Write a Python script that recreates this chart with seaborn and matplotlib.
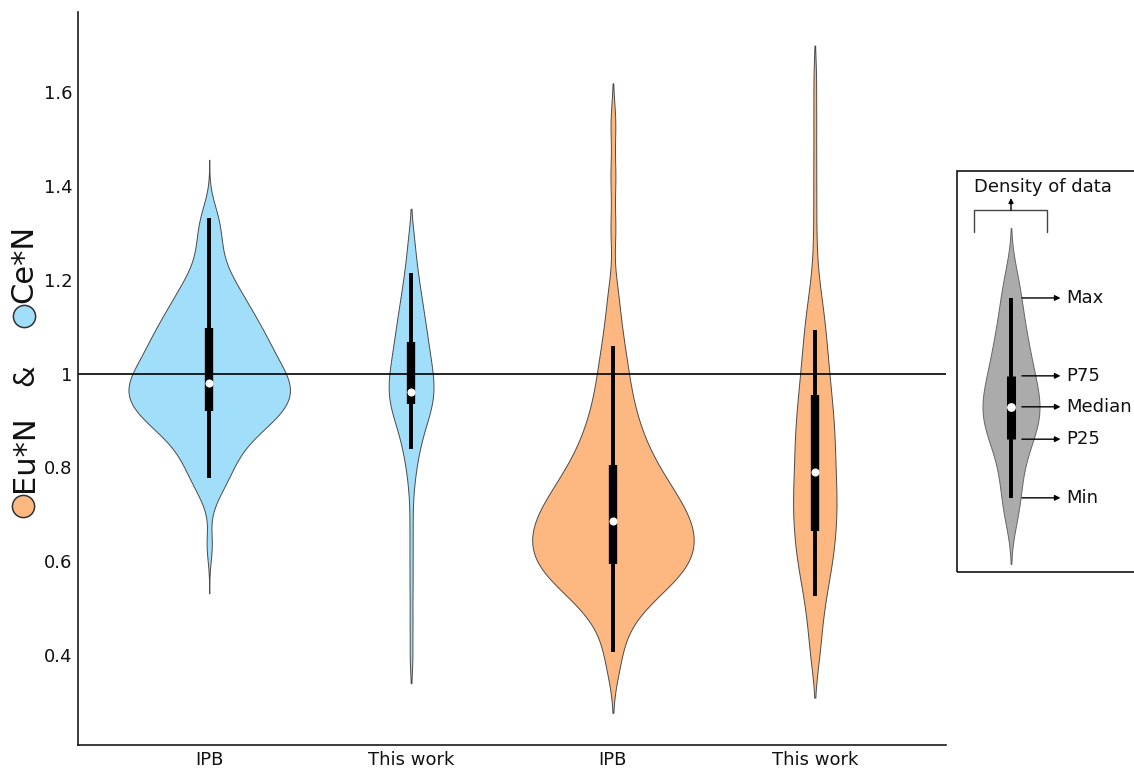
import numpy as np
import matplotlib
matplotlib.use("Agg")
import matplotlib.pyplot as plt
from matplotlib.lines import Line2D
from matplotlib.patches import Rectangle
import seaborn as sns

sns.set_style("white")
plt.rcParams["font.family"] = ["DejaVu Sans"]

# ---- data -----------------------------------------------------------------
categories = ["Ce IPB", "Ce This work", "Eu IPB", "Eu This work"]
tick_labels = ["IPB", "This work", "IPB", "This work"]

ce_ipb = [0.635, 0.731, 0.752, 0.766, 0.777, 0.787, 0.796, 0.805, 0.813, 0.821,
          0.829, 0.836, 0.843, 0.849, 0.855, 0.860, 0.865, 0.870, 0.875, 0.879, 0.883,
          0.887, 0.890, 0.894, 0.897, 0.900, 0.904, 0.907, 0.910, 0.913, 0.916, 0.919,
          0.921, 0.924, 0.927, 0.930, 0.932, 0.935, 0.938, 0.940, 0.943, 0.945, 0.948,
          0.950, 0.953, 0.956, 0.958, 0.961, 0.963, 0.966, 0.968, 0.971, 0.973, 0.976,
          0.978, 0.981, 0.984, 0.986, 0.989, 0.992, 0.994, 0.997, 1.000, 1.003, 1.005,
          1.008, 1.011, 1.014, 1.017, 1.020, 1.023, 1.026, 1.030, 1.033, 1.036, 1.039,
          1.043, 1.046, 1.049, 1.053, 1.056, 1.060, 1.063, 1.067, 1.070, 1.074, 1.078,
          1.082, 1.085, 1.089, 1.093, 1.097, 1.101, 1.106, 1.110, 1.114, 1.119, 1.124,
          1.128, 1.133, 1.139, 1.144, 1.149, 1.155, 1.161, 1.167, 1.174, 1.181, 1.188,
          1.196, 1.205, 1.215, 1.227, 1.241, 1.258, 1.275, 1.292, 1.310, 1.328, 1.352]

ce_this_work = [0.394, 0.470, 0.545, 0.612, 0.678, 0.743, 0.781, 0.803, 0.821, 0.835,
                0.847, 0.858, 0.868, 0.877, 0.885, 0.892, 0.899, 0.905, 0.911, 0.916,
                0.922, 0.927, 0.931, 0.936, 0.941, 0.945, 0.950, 0.954, 0.958, 0.963,
                0.967, 0.971, 0.976, 0.980, 0.985, 0.990, 0.994, 0.999, 1.004, 1.008,
                1.013, 1.018, 1.024, 1.029, 1.034, 1.040, 1.046, 1.051, 1.057, 1.063,
                1.069, 1.076, 1.082, 1.089, 1.095, 1.102, 1.110, 1.117, 1.125, 1.133,
                1.142, 1.151, 1.160, 1.171, 1.182, 1.194, 1.208, 1.224, 1.243, 1.267,
                1.297]

eu_ipb = [0.362, 0.392, 0.421, 0.445, 0.464, 0.478, 0.489, 0.498, 0.506, 0.513, 0.520,
          0.526, 0.531, 0.537, 0.542, 0.546, 0.550, 0.555, 0.559, 0.562, 0.566, 0.570,
          0.573, 0.576, 0.580, 0.583, 0.586, 0.589, 0.592, 0.595, 0.598, 0.601, 0.605,
          0.608, 0.611, 0.614, 0.617, 0.620, 0.623, 0.626, 0.629, 0.632, 0.635, 0.638,
          0.641, 0.644, 0.647, 0.650, 0.653, 0.656, 0.659, 0.662, 0.665, 0.668, 0.671,
          0.674, 0.677, 0.680, 0.683, 0.687, 0.690, 0.693, 0.696, 0.699, 0.703, 0.706,
          0.709, 0.713, 0.716, 0.720, 0.723, 0.727, 0.731, 0.735, 0.738, 0.742, 0.746,
          0.750, 0.755, 0.759, 0.763, 0.768, 0.772, 0.777, 0.782, 0.787, 0.792, 0.797,
          0.803, 0.808, 0.814, 0.821, 0.827, 0.834, 0.841, 0.848, 0.856, 0.864, 0.872,
          0.881, 0.890, 0.899, 0.910, 0.921, 0.933, 0.945, 0.958, 0.972, 0.987, 1.003,
          1.019, 1.037, 1.057, 1.080, 1.108, 1.142, 1.186, 1.308, 1.420, 1.533]

eu_this_work = [0.378, 0.403, 0.424, 0.445, 0.464, 0.481, 0.496, 0.509, 0.521, 0.532,
                0.543, 0.552, 0.561, 0.570, 0.578, 0.586, 0.593, 0.600, 0.607, 0.614,
                0.620, 0.627, 0.633, 0.640, 0.646, 0.652, 0.658, 0.664, 0.670, 0.676,
                0.682, 0.688, 0.694, 0.699, 0.705, 0.711, 0.716, 0.722, 0.727, 0.733,
                0.739, 0.745, 0.750, 0.756, 0.762, 0.768, 0.774, 0.780, 0.786, 0.792,
                0.798, 0.804, 0.810, 0.817, 0.823, 0.829, 0.835, 0.842, 0.848, 0.854,
                0.860, 0.867, 0.873, 0.879, 0.885, 0.892, 0.898, 0.905, 0.912, 0.919,
                0.925, 0.933, 0.940, 0.947, 0.955, 0.962, 0.970, 0.978, 0.987, 0.995,
                1.004, 1.013, 1.022, 1.031, 1.041, 1.051, 1.061, 1.072, 1.083, 1.094,
                1.106, 1.119, 1.132, 1.147, 1.165, 1.187, 1.220, 1.283, 1.365, 1.450,
                1.540, 1.630]

# summary statistics shown inside each violin
whisker_low = [0.777, 0.839, 0.407, 0.526]
p25 = [0.920, 0.935, 0.594, 0.665]
medians = [0.980, 0.961, 0.686, 0.791]
p75 = [1.097, 1.067, 0.805, 0.954]
whisker_high = [1.331, 1.214, 1.059, 1.093]

# illustrative distribution for the key panel
key_values = [0.684, 0.713, 0.737, 0.760, 0.782, 0.803, 0.821, 0.836, 0.849, 0.860,
              0.870, 0.879, 0.887, 0.895, 0.903, 0.911, 0.918, 0.925, 0.933, 0.940,
              0.948, 0.956, 0.964, 0.973, 0.983, 0.992, 1.002, 1.013, 1.024, 1.035,
              1.047, 1.060, 1.074, 1.089, 1.105, 1.123, 1.142, 1.165, 1.189, 1.220]
key_labels = ["Min", "P25", "Median", "P75", "Max"]
key_stats = [0.735, 0.860, 0.929, 0.995, 1.161]

reference_level = 1.0
y_ticks = [0.4, 0.6, 0.8, 1.0, 1.2, 1.4, 1.6]
y_tick_labels = ["0.4", "0.6", "0.8", "1", "1.2", "1.4", "1.6"]

# ---- styling --------------------------------------------------------------
BLUE = "#A0DEF9"
ORANGE = "#FDB882"
GREY = "#ABABAB"
EDGE = "#4a4a4a"
INK = "#111111"
series = [ce_ipb, ce_this_work, eu_ipb, eu_this_work]
colors = [BLUE, BLUE, ORANGE, ORANGE]
widths = [0.80, 0.222, 0.80, 0.215]
bw_factors = [0.255, 0.210, 0.228, 0.189]
cuts = [3.0, 1.5, 1.9, 1.5]

W, H = 1134, 769
fig = plt.figure(figsize=(W / 100, H / 100), dpi=100)

def px_axes(x0, y0, x1, y1):
    return fig.add_axes([x0 / W, 1 - y1 / H, (x1 - x0) / W, (y1 - y0) / H])

ax = px_axes(78, 12, 946, 745)

for cat, vals, col, wd, bwf, ct in zip(categories, series, colors, widths, bw_factors, cuts):
    sns.violinplot(x=[cat] * len(vals), y=vals, order=categories, color=col,
                   saturation=1, inner=None, width=wd, density_norm="width",
                   bw_method=bwf, cut=ct, gridsize=400, linewidth=0.7,
                   linecolor=EDGE, ax=ax)

pos = np.arange(len(categories))
ax.vlines(pos, whisker_low, whisker_high, color="black", lw=2.8, zorder=3)
ax.vlines(pos, p25, p75, color="black", lw=6.0, zorder=3)
ax.scatter(pos, medians, s=34, color="white", zorder=4, linewidths=0)
ax.axhline(reference_level, color="black", lw=1.2, zorder=2)

ax.set_xlim(-0.65, 3.65)
ax.set_ylim(0.2082, 1.7705)
ax.set_yticks(y_ticks)
ax.set_yticklabels(y_tick_labels)
ax.set_xticks(pos)
ax.set_xticklabels(tick_labels)
ax.set_xlabel("")
ax.set_ylabel("")
for s in ["top", "right"]:
    ax.spines[s].set_visible(False)
for s in ["left", "bottom"]:
    ax.spines[s].set_linewidth(1.2)
    ax.spines[s].set_color("#1a1a1a")
ax.tick_params(axis="y", direction="in", length=3, width=1, color="#999999",
               labelsize=13, labelcolor=INK, pad=4)
ax.tick_params(axis="x", direction="in", length=6, width=1.3, color="#1a1a1a",
               labelsize=13, labelcolor=INK, pad=4)

# ---- composite y-axis title: coloured markers + rotated text ---------------
def fx(x):
    return x / W

def fy(y):
    return 1 - y / H

for (cx, cy), col in [((23, 506), ORANGE), ((24, 316), BLUE)]:
    fig.add_artist(Line2D([fx(cx)], [fy(cy)], marker="o", markersize=16,
                          markerfacecolor=col, markeredgecolor="#333333",
                          markeredgewidth=1.1, transform=fig.transFigure))
fig.text(fx(24), fy(454), "Eu*N", rotation=90, fontsize=22, ha="center", va="center", color=INK)
fig.text(fx(25), fy(375), "&", rotation=90, fontsize=20, ha="center", va="center", color=INK)
fig.text(fx(24), fy(264), "Ce*N", rotation=90, fontsize=22, ha="center", va="center", color=INK)

# ---- key panel ---------------------------------------------------------------
fig.add_artist(Rectangle((fx(957), fy(572)), fx(1200) - fx(957), fy(171) - fy(572),
                         transform=fig.transFigure, fill=False, ec="black", lw=1.1))

kax = px_axes(957, 12, 1134, 745)
sns.violinplot(x=["key"] * len(key_values), y=key_values, color=GREY, saturation=1,
               inner=None, width=57 / 202, density_norm="width", bw_method=0.342,
               cut=2, gridsize=300, linewidth=0.7, linecolor="#666666", ax=kax)
kmin, kp25, kmed, kp75, kmax = key_stats
kax.vlines(0, kmin, kmax, color="black", lw=2.8, zorder=3)
kax.vlines(0, kp25, kp75, color="black", lw=6.5, zorder=3)
kax.scatter([0], [kmed], s=40, color="white", zorder=4, linewidths=0)
kax.set_xlim(-54 / 202, 123 / 202)
kax.set_ylim(0.2082, 1.7705)
kax.axis("off")

for lab, val in zip(key_labels, key_stats):
    kax.annotate("", xy=(0.245, val), xytext=(0.054, val),
                 arrowprops=dict(arrowstyle="-|>", lw=1.0, color="black",
                                 mutation_scale=8, shrinkA=0, shrinkB=0))
    kax.text(0.272, val, lab, fontsize=13, va="center", ha="left", color=INK)

kax.plot([-0.183, -0.183, 0.178, 0.178], [1.3016, 1.348, 1.348, 1.3016],
         color="#444444", lw=1.0, solid_joinstyle="miter")
kax.annotate("", xy=(0, 1.374), xytext=(0, 1.348),
             arrowprops=dict(arrowstyle="-|>", lw=1.0, color="black",
                             mutation_scale=7, shrinkA=0, shrinkB=0))
kax.text(0.158, 1.3975, "Density of data", fontsize=13, ha="center", va="center",
         color=INK)

fig.savefig("out.png", dpi=100)
